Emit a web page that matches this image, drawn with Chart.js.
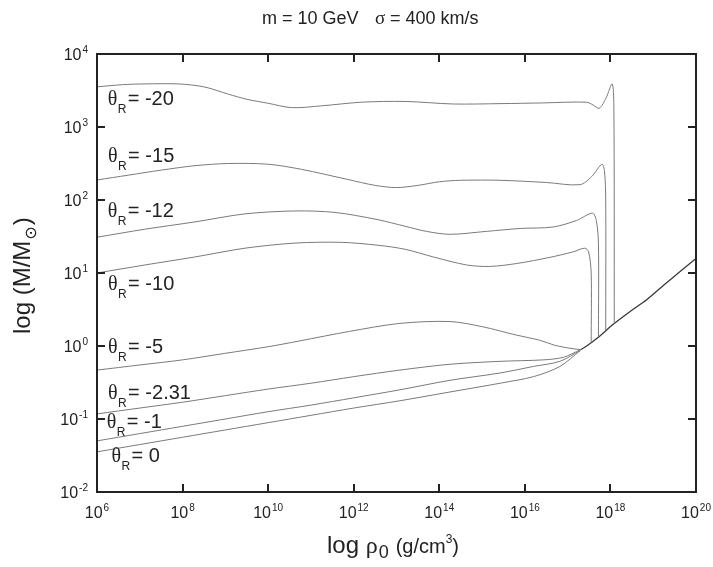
<!DOCTYPE html>
<html>
<head>
<meta charset="utf-8">
<title>Mass vs central density</title>
<script src="https://cdn.jsdelivr.net/npm/chart.js@4.4.1/dist/chart.umd.min.js"></script>
<style>
  html, body { margin: 0; padding: 0; background: #fff; }
  #wrap { width: 713px; height: 567px; }
</style>
</head>
<body>
<div id="wrap"><canvas id="massChart" width="713" height="567"></canvas></div>
<script>
// log10(rho0 [g/cm^3]) , log10(M/Msun) pairs for each theta_R curve
const thetaM20 = [[6.0,3.55],[6.6,3.58],[7.1,3.59],[7.9,3.59],[8.5,3.55],[9.07,3.45],[9.5,3.38],[10.0,3.325],[10.55,3.265],[11.25,3.29],[12.19,3.34],[13.2,3.35],[14.33,3.315],[15.42,3.32],[16.43,3.33],[17.44,3.34],[17.6,3.3],[17.74,3.256],[17.9,3.4],[18.04,3.59],[18.08,3.3],[18.09,0.31]];
const thetaM15 = [[6.0,2.274],[6.73,2.34],[7.51,2.41],[8.29,2.47],[9.07,2.5],[10.0,2.49],[10.78,2.42],[11.87,2.28],[12.5,2.2],[13.0,2.17],[13.5,2.2],[14.0,2.25],[14.5,2.27],[15.42,2.27],[16.5,2.24],[17.29,2.21],[17.56,2.32],[17.8,2.49],[17.86,2.4],[17.89,2.0],[17.89,0.22]];
const thetaM12 = [[6.0,1.49],[7.12,1.6],[8.29,1.7],[9.46,1.81],[10.63,1.85],[11.56,1.83],[12.57,1.73],[13.2,1.64],[13.7,1.57],[14.25,1.53],[15.1,1.57],[15.89,1.61],[16.66,1.63],[17.21,1.72],[17.58,1.82],[17.67,1.72],[17.72,1.4],[17.72,0.13]];
const thetaM10 = [[6.0,1.0],[7.12,1.11],[8.29,1.22],[9.46,1.34],[10.63,1.41],[11.72,1.42],[12.57,1.38],[13.2,1.325],[13.86,1.22],[14.64,1.11],[15.18,1.09],[15.81,1.13],[16.59,1.215],[17.13,1.29],[17.4,1.34],[17.49,1.29],[17.55,1.0],[17.55,0.05]];
const thetaM5 = [[6.0,-0.33],[7.0,-0.26],[8.0,-0.19],[9.0,-0.1],[10.0,-0.01],[10.74,0.07],[11.9,0.2],[13.08,0.31],[14.25,0.335],[15.0,0.265],[15.8,0.15],[16.34,0.08],[16.7,0.01],[17.04,-0.03],[17.3,-0.05]];
const thetaM231 = [[6.0,-0.93],[7.0,-0.85],[8.0,-0.77],[9.0,-0.68],[10.0,-0.59],[11.0,-0.51],[12.0,-0.42],[13.08,-0.33],[14.25,-0.25],[15.42,-0.21],[16.43,-0.19],[16.9,-0.155],[17.3,-0.05]];
const thetaM1 = [[6.0,-1.3],[7.0,-1.2],[8.0,-1.1],[9.0,-1.0],[10.0,-0.9],[11.0,-0.81],[12.0,-0.71],[13.08,-0.6],[14.25,-0.47],[15.42,-0.37],[16.2,-0.28],[16.82,-0.21],[17.3,-0.06]];
const theta0 = [[6.0,-1.45],[7.0,-1.35],[8.0,-1.25],[9.0,-1.15],[10.0,-1.05],[11.0,-0.95],[12.0,-0.85],[13.08,-0.75],[14.25,-0.63],[15.42,-0.51],[16.2,-0.42],[16.82,-0.28],[17.3,-0.06]];
// common high-density branch all curves fall onto
const branch = [[17.3,-0.05],[17.42,-0.01],[17.74,0.13],[18.05,0.29],[18.5,0.49],[18.84,0.63],[19.3,0.86],[20.0,1.2]];

const curves = [thetaM20, thetaM15, thetaM12, thetaM10, thetaM5, thetaM231, thetaM1, theta0];
const thetaLabels = ["-20", "-15", "-12", "-10", "-5", "-2.31", "-1", "0"];
const xTicks = [6, 8, 10, 12, 14, 16, 18, 20];
const yTicks = [-2, -1, 0, 1, 2, 3, 4];

// where each theta label sits, in data units (left edge, baseline)
const labelPos = [[6.25,3.30],[6.26,2.52],[6.25,1.77],[6.26,0.77],[6.26,-0.09],[6.26,-0.72],[6.23,-1.12],[6.34,-1.59]];

const SANS = '"Liberation Sans", Arial, sans-serif';
const SERIF = '"Liberation Serif", "Times New Roman", serif';

function toPoints(arr) {
  return arr.map(p => ({ x: p[0], y: p[1] }));
}

const datasets = curves.map((c, i) => ({
  label: "theta_R = " + thetaLabels[i],
  data: toPoints(c),
  borderColor: "#7a7a7a",
  borderWidth: 1,
  pointRadius: 0,
  tension: 0.3,
  fill: false
}));
datasets.push({
  label: "branch",
  data: toPoints(branch),
  borderColor: "#333",
  borderWidth: 1.2,
  pointRadius: 0,
  tension: 0.2,
  fill: false
});

// ------------------------------------------------------------
// Frame, inward ticks, power-of-ten labels and text
// ------------------------------------------------------------
function drawPow(ctx, exp, x, y, align) {
  ctx.font = "16px " + SANS;
  const wBase = ctx.measureText("10").width;
  ctx.font = "10px " + SANS;
  const wExp = ctx.measureText(String(exp)).width;
  const total = wBase + wExp + 1;
  let left = x;
  if (align === "center") left = x - total / 2;
  if (align === "right") left = x - total;
  ctx.textAlign = "left";
  ctx.textBaseline = "alphabetic";
  ctx.font = "16px " + SANS;
  ctx.fillText("10", left, y);
  ctx.font = "10px " + SANS;
  ctx.fillText(String(exp), left + wBase + 1, y - 7);
}

const decorations = {
  id: "decorations",
  afterDraw(chart) {
    const { ctx, chartArea: a, scales } = chart;
    const sx = scales.x, sy = scales.y;
    ctx.save();
    ctx.fillStyle = "#222";
    ctx.strokeStyle = "#222";

    ctx.lineWidth = 2;
    ctx.strokeRect(a.left, a.top, a.right - a.left, a.bottom - a.top);

    ctx.beginPath();
    xTicks.forEach(v => {
      const px = Math.round(sx.getPixelForValue(v));
      ctx.moveTo(px, a.bottom); ctx.lineTo(px, a.bottom - 8);
      ctx.moveTo(px, a.top); ctx.lineTo(px, a.top + 8);
    });
    yTicks.forEach(v => {
      const py = Math.round(sy.getPixelForValue(v));
      ctx.moveTo(a.left, py); ctx.lineTo(a.left + 8, py);
      ctx.moveTo(a.right, py); ctx.lineTo(a.right - 8, py);
    });
    ctx.stroke();

    xTicks.forEach(v => drawPow(ctx, v, sx.getPixelForValue(v), a.bottom + 26, "center"));
    yTicks.forEach(v => drawPow(ctx, v, a.left - 9, sy.getPixelForValue(v) + 5.5, "right"));

    // theta_R labels
    thetaLabels.forEach((t, i) => {
      const lx = sx.getPixelForValue(labelPos[i][0]);
      const ly = sy.getPixelForValue(labelPos[i][1]);
      ctx.textAlign = "left";
      ctx.font = "20px " + SERIF;
      ctx.fillText("\u03B8", lx, ly);
      ctx.font = "12px " + SANS;
      ctx.fillText("R", lx + 10, ly + 8);
      ctx.font = "20px " + SANS;
      ctx.fillText("= " + t, lx + 20, ly);
    });

    // title
    ctx.font = "18px " + SANS;
    ctx.textAlign = "left";
    ctx.fillText("m = 10 GeV", 262, 24);
    ctx.font = "19px " + SERIF;
    ctx.fillText("\u03C3", 375, 24);
    ctx.font = "18px " + SANS;
    ctx.fillText(" = 400 km/s", 385, 24);

    // x axis title
    let cx = 327;
    const by = 553;
    ctx.font = "24px " + SANS;
    ctx.fillText("log", cx, by);
    cx += ctx.measureText("log ").width;
    ctx.font = "24px " + SERIF;
    ctx.fillText("\u03C1", cx, by);
    cx += ctx.measureText("\u03C1").width + 1;
    ctx.font = "18px " + SANS;
    ctx.fillText("0", cx, by + 5);
    cx += ctx.measureText("0 ").width + 2;
    ctx.font = "20px " + SANS;
    ctx.fillText("(g/cm", cx, by);
    cx += ctx.measureText("(g/cm").width;
    ctx.font = "12px " + SANS;
    ctx.fillText("3", cx, by - 10);
    cx += ctx.measureText("3").width;
    ctx.font = "20px " + SANS;
    ctx.fillText(")", cx, by);

    // y axis title
    ctx.translate(30, 334);
    ctx.rotate(-Math.PI / 2);
    let ty = 0;
    ctx.font = "24px " + SANS;
    ctx.fillText("log (M/M", ty, 0);
    ty += ctx.measureText("log (M/M").width + 1;
    ctx.font = "16px \"DejaVu Sans\", " + SANS;
    ctx.fillText("\u2299", ty, 6);
    ty += ctx.measureText("\u2299").width + 1;
    ctx.font = "24px " + SANS;
    ctx.fillText(")", ty, 0);

    ctx.restore();
  }
};

new Chart(document.getElementById("massChart"), {
  type: "line",
  data: { datasets },
  options: {
    responsive: false,
    animation: false,
    devicePixelRatio: 1,
    layout: { padding: { left: 97, right: 17, top: 54, bottom: 75 } },
    plugins: { legend: { display: false }, tooltip: { enabled: false } },
    scales: {
      x: {
        type: "linear", min: 6, max: 20,
        ticks: { display: false, stepSize: 2, padding: 0 },
        grid: { display: false, drawTicks: false, tickLength: 0 },
        border: { display: false }
      },
      y: {
        type: "linear", min: -2, max: 4,
        ticks: { display: false, stepSize: 1, padding: 0 },
        grid: { display: false, drawTicks: false, tickLength: 0 },
        border: { display: false }
      }
    }
  },
  plugins: [decorations]
});
</script>
</body>
</html>
